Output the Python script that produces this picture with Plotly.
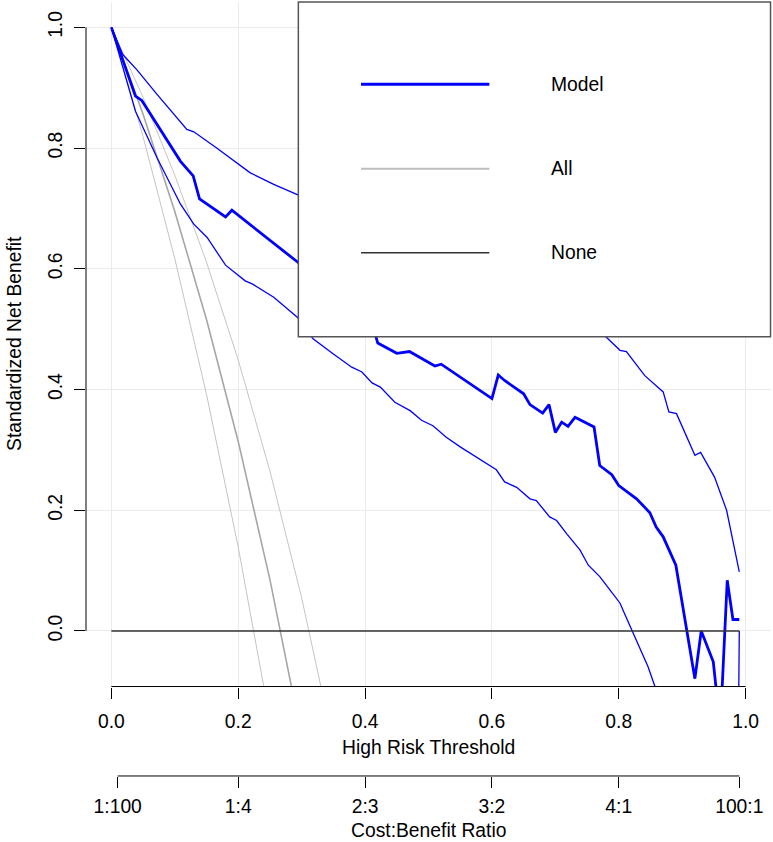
import plotly.graph_objects as go

# decision curve values
model_x = [0.00, 0.038, 0.048, 0.109, 0.129, 0.139, 0.180, 0.190, 0.295, 0.35, 0.40,
           0.417, 0.420, 0.450, 0.470, 0.510, 0.520, 0.600, 0.610, 0.620, 0.650, 0.660,
           0.680, 0.690, 0.700, 0.710, 0.720, 0.731, 0.761, 0.770, 0.789, 0.800, 0.828,
           0.849, 0.859, 0.870, 0.890, 0.920, 0.930, 0.949, 0.960, 0.971, 0.980, 0.990]
model_y = [1.000, 0.886, 0.879, 0.778, 0.754, 0.716, 0.686, 0.697, 0.610, 0.555, 0.505,
           0.488, 0.477, 0.460, 0.463, 0.439, 0.442, 0.385, 0.424, 0.415, 0.393, 0.375,
           0.361, 0.375, 0.329, 0.346, 0.339, 0.354, 0.338, 0.274, 0.259, 0.241, 0.219,
           0.196, 0.172, 0.156, 0.109, -0.079, 0.000, -0.051, -0.160, 0.084, 0.019, 0.019]

upper_x = [0.00, 0.018, 0.040, 0.072, 0.119, 0.130, 0.166, 0.219, 0.256, 0.295, 0.40,
           0.50, 0.60, 0.70, 0.75, 0.780, 0.802, 0.812, 0.841, 0.870, 0.879, 0.891,
           0.920, 0.929, 0.951, 0.970, 0.990]
upper_y = [1.000, 0.955, 0.930, 0.889, 0.831, 0.827, 0.800, 0.759, 0.740, 0.722, 0.675,
           0.630, 0.585, 0.545, 0.515, 0.487, 0.465, 0.463, 0.423, 0.396, 0.363, 0.360,
           0.291, 0.296, 0.255, 0.200, 0.098]

lower_x = [0.00, 0.038, 0.072, 0.109, 0.130, 0.151, 0.180, 0.211, 0.222, 0.256, 0.295,
           0.318, 0.350, 0.379, 0.395, 0.411, 0.424, 0.447, 0.471, 0.489, 0.507, 0.528,
           0.550, 0.563, 0.581, 0.607, 0.620, 0.639, 0.660, 0.670, 0.691, 0.702, 0.718,
           0.739, 0.752, 0.770, 0.786, 0.802, 0.809, 0.823, 0.846, 0.857, 0.870, 0.980,
           0.990]
lower_y = [1.000, 0.861, 0.784, 0.707, 0.674, 0.652, 0.606, 0.580, 0.575, 0.553, 0.518,
           0.484, 0.459, 0.437, 0.429, 0.411, 0.404, 0.379, 0.365, 0.349, 0.340, 0.321,
           0.305, 0.296, 0.285, 0.267, 0.247, 0.238, 0.219, 0.216, 0.189, 0.183, 0.161,
           0.134, 0.109, 0.090, 0.068, 0.046, 0.029, -0.004, -0.059, -0.092, -0.150, -1.200,
           0.000]

all_x = [0.00, 0.05, 0.10, 0.15, 0.20, 0.25, 0.30, 0.35]
all_y = [1.000, 0.856, 0.695, 0.516, 0.314, 0.085, -0.176, -0.478]
all_lo = [1.000, 0.819, 0.617, 0.392, 0.139, -0.148, -0.476, -0.855]
all_hi = [1.000, 0.884, 0.755, 0.611, 0.449, 0.265, 0.055, -0.187]

none_x = [0.00, 0.99]
none_y = [0.00, 0.00]

xticks = [0.0, 0.2, 0.4, 0.6, 0.8, 1.0]
yticks = [0.0, 0.2, 0.4, 0.6, 0.8, 1.0]
cb_ticks = [0.01, 0.2, 0.4, 0.6, 0.8, 0.99]
cb_labels = ["1:100", "1:4", "2:3", "3:2", "4:1", "100:1"]

BLUE = "#0000ff"
FONT = "Liberation Sans, Arial, Helvetica, sans-serif"
FS = 19.3

fig = go.Figure()

def line(x, y, color, width, xaxis="x"):
    fig.add_trace(go.Scatter(x=x, y=y, mode="lines", xaxis=xaxis,
                             line=dict(color=color, width=width),
                             showlegend=False, hoverinfo="skip"))

line(all_x, all_lo, "#c4c4c4", 1)
line(all_x, all_hi, "#c4c4c4", 1)
line(all_x, all_y, "#a6a6a6", 1.6)
line(none_x, none_y, "#333333", 1.5, xaxis="x2")
line(upper_x, upper_y, BLUE, 1.3)
line(lower_x, lower_y, BLUE, 1.3)
line(model_x, model_y, BLUE, 2.8)

main_bottom = 0.1851
cb_pos = 0.0786

fig.update_layout(
    width=773, height=842,
    margin=dict(l=86, r=2, t=2, b=0),
    paper_bgcolor="white", plot_bgcolor="white",
    font=dict(family=FONT, size=FS, color="black"),
    xaxis=dict(range=[-0.04, 1.04], tickvals=xticks, ticktext=["%.1f" % v for v in xticks],
               ticks="outside", ticklen=11, tickcolor="black", tickwidth=1,
               ticklabelstandoff=6,
               showgrid=True, gridcolor="#ebebeb", gridwidth=1, zeroline=False,
               showline=False, anchor="y", automargin=False),
    xaxis2=dict(range=[-0.04, 1.04], overlaying="x", anchor="free", position=cb_pos,
                side="bottom", tickvals=cb_ticks, ticktext=cb_labels,
                ticks="outside", ticklen=11, tickcolor="black", tickwidth=1,
                ticklabelstandoff=2,
                showgrid=False, zeroline=False, showline=False, automargin=False),
    yaxis=dict(range=[-0.092, 1.042], domain=[main_bottom, 1], tickvals=yticks,
               ticktext=["%.1f" % v for v in yticks], tickangle=-90,
               ticks="outside", ticklen=11, tickcolor="black", tickwidth=1,
               ticklabelstandoff=4,
               showgrid=True, gridcolor="#ebebeb", gridwidth=1, zeroline=False,
               showline=False, automargin=False),
)

shapes = [
    # axis lines spanning tick range only
    dict(type="line", xref="x", yref="paper", x0=xticks[0], x1=xticks[-1],
         y0=main_bottom, y1=main_bottom, line=dict(color="black", width=1)),
    dict(type="line", xref="paper", yref="y", x0=0, x1=0, y0=yticks[0], y1=yticks[-1],
         line=dict(color="black", width=1)),
    dict(type="line", xref="x", yref="paper", x0=cb_ticks[0], x1=cb_ticks[-1],
         y0=cb_pos, y1=cb_pos, line=dict(color="black", width=1)),
    # legend box
    dict(type="rect", xref="paper", yref="paper", x0=0.310, x1=0.9993, y0=0.6015, y1=1.0,
         fillcolor="white", line=dict(color="#555555", width=1.5), layer="above"),
    dict(type="line", xref="paper", yref="paper", x0=0.4015, x1=0.5888, y0=0.9020, y1=0.9020,
         line=dict(color=BLUE, width=3), layer="above"),
    dict(type="line", xref="paper", yref="paper", x0=0.4015, x1=0.5888, y0=0.8015, y1=0.8015,
         line=dict(color="#bebebe", width=2), layer="above"),
    dict(type="line", xref="paper", yref="paper", x0=0.4015, x1=0.5888, y0=0.7015, y1=0.7015,
         line=dict(color="#333333", width=1.5), layer="above"),
]
fig.update_layout(shapes=shapes)

ann = [
    dict(text="Model", x=0.676, y=0.9020),
    dict(text="All", x=0.676, y=0.8015),
    dict(text="None", x=0.676, y=0.7015),
]
for a in ann:
    fig.add_annotation(xref="paper", yref="paper", xanchor="left", yanchor="middle",
                       showarrow=False, font=dict(size=FS), **a)

fig.add_annotation(text="High Risk Threshold", xref="paper", yref="paper", x=0.5, y=0.112,
                   xanchor="center", yanchor="middle", showarrow=False)
fig.add_annotation(text="Cost:Benefit Ratio", xref="paper", yref="paper", x=0.5, y=0.0,
                   xanchor="center", yanchor="bottom", showarrow=False, borderpad=0)
fig.add_annotation(text="Standardized Net Benefit", xref="paper", yref="paper", x=-0.1036,
                   y=0.593, xanchor="center", yanchor="middle", textangle=-90, showarrow=False)

# the page body has a default 8px margin; drop it so the figure sits at the window corner
fig.write_html("out.html", config={"displayModeBar": False},
               post_script="document.body.style.margin='0';")
